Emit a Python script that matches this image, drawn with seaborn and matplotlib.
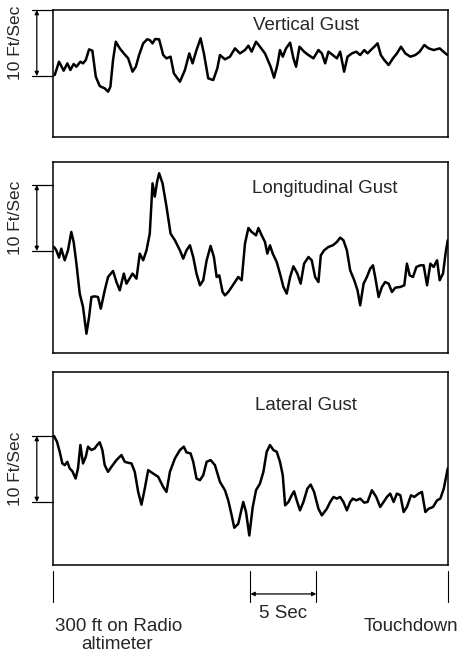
import matplotlib
matplotlib.use("Agg")
import matplotlib.pyplot as plt
import matplotlib.transforms as mtransforms
import seaborn as sns

# Gust traces, time in seconds from 300 ft altitude to touchdown, gust in ft/sec
vert_t = [0.13, 0.46, 0.81, 1.09, 1.32, 1.57, 1.78, 2.08, 2.28, 2.49, 2.74, 2.99, 3.25, 3.55,
          3.93, 4.18, 4.36, 4.56, 4.77, 5.07, 5.38, 5.71, 6.04, 6.29, 6.54, 6.85, 7.15, 7.35,
          7.56, 7.76, 8.06, 8.37, 8.62, 8.93, 9.18, 9.64, 10.02, 10.35, 10.60, 10.90, 11.21,
          11.46, 11.79, 12.17, 12.48, 12.68, 13.06, 13.44, 13.82, 14.20, 14.58, 14.84, 15.09,
          15.42, 15.72, 16.10, 16.53, 16.79, 17.04, 17.24, 17.45, 17.70, 18.01, 18.26, 18.46,
          18.72, 19.07, 19.40, 19.78, 20.16, 20.42, 20.67, 20.92, 21.25, 21.56, 21.81, 22.11,
          22.37, 22.70, 23.03, 23.33, 23.64, 23.89, 24.14, 24.40, 24.65, 24.90, 25.16, 25.49,
          25.82, 26.12, 26.43, 26.76, 27.14, 27.52, 27.85, 28.20, 28.53, 28.91, 29.37, 29.80, 29.98]
vert_v = [0.15, 2.17, 0.81, 1.92, 0.91, 1.82, 1.41, 2.17, 1.92, 2.42, 4.04, 3.84, -0.10, -1.52,
          -1.87, -2.37, -1.62, 2.42, 5.20, 4.19, 3.43, 2.68, 0.66, 1.41, 3.18, 4.95, 5.56, 5.45,
          4.95, 5.61, 5.56, 3.18, 2.68, 2.93, 0.40, -0.86, 0.91, 3.43, 1.92, 3.94, 5.71,
          3.43, -0.35, -0.61, 1.16, 3.18, 2.53, 2.93, 4.19, 3.43, 3.94, 4.60, 3.69,
          5.20, 4.44, 3.43, 1.41, -0.25, 1.67, 3.94, 2.93, 4.19, 5.05, 2.68, 1.41,
          4.44, 3.69, 3.18, 2.68, 3.94, 3.43, 1.92, 3.69, 3.18, 2.68, 3.69, 0.66,
          2.93, 3.43, 3.69, 3.18, 3.94, 3.43, 3.94, 4.44, 4.95, 3.18, 2.42, 1.67,
          2.68, 3.43, 4.44, 3.43, 2.93, 3.18, 3.69, 4.70, 4.19, 3.94, 4.19, 3.43, 3.18]

long_t = [0.08, 0.25, 0.46, 0.63, 0.89, 1.14, 1.39, 1.57, 1.78, 2.03, 2.28, 2.54, 2.74, 2.92,
          3.17, 3.42, 3.63, 3.93, 4.18, 4.56, 4.82, 5.07, 5.38, 5.58, 6.04, 6.34, 6.59, 6.85,
          7.10, 7.35, 7.56, 7.73, 7.91, 8.06, 8.32, 8.62, 8.93, 9.26, 9.64, 9.89, 10.14, 10.40,
          10.65, 10.90, 11.16, 11.41, 11.67, 11.97, 12.22, 12.43, 12.63, 12.88, 13.06, 13.31,
          13.57, 13.82, 14.07, 14.33, 14.58, 14.84, 15.09, 15.42, 15.60, 15.85, 16.10, 16.28,
          16.48, 16.69, 16.99, 17.24, 17.50, 17.75, 18.01, 18.26, 18.56, 18.81, 19.07, 19.40,
          19.65, 19.91, 20.16, 20.34, 20.59, 20.92, 21.25, 21.56, 21.81, 22.06, 22.32, 22.57,
          22.88, 23.13, 23.33, 23.59, 23.84, 24.09, 24.30, 24.47, 24.73, 24.98, 25.23, 25.49,
          25.74, 26.00, 26.38, 26.68, 26.88, 27.09, 27.34, 27.60, 27.90, 28.15, 28.41, 28.66,
          28.91, 29.17, 29.37, 29.62, 29.83, 29.98]
long_v = [0.61, 0.10, -1.01, 0.35, -1.41, 0.10, 2.88, 1.36, -1.92, -6.46, -8.48, -12.53, -10.0, -6.97,
          -6.87, -6.97, -8.74, -5.96, -3.94, -3.03, -4.70, -5.96, -3.43, -4.95, -3.43, -4.19, -0.40, -1.41,
          0.10, 2.63, 10.25, 8.23, 10.51, 11.77, 10.25, 6.72, 2.63, 1.62, 0.10, -1.16, 0.10, 0.86,
          -0.91, -3.43, -5.20, -4.44, -1.41, 0.76, -0.91, -3.94, -3.69, -6.21, -6.72, -6.21,
          -5.45, -4.70, -3.94, -4.44, 1.11, 3.48, 2.88, 2.37, 3.48, 2.37, 1.36, -0.40,
          0.86, -0.40, -1.67, -3.43, -5.45, -6.46, -3.94, -2.32, -3.43, -4.95, -1.92, -0.91,
          -1.41, -3.94, -4.70, -0.66, 0.10, 0.61, 0.86, 1.36, 2.02, 1.62, 0.10, -2.93,
          -4.44, -5.96, -8.23, -4.95, -3.94, -2.68, -2.17, -3.94, -6.97, -5.45, -4.70, -4.95,
          -6.21, -5.56, -5.45, -5.20, -1.92, -3.69, -3.94, -2.42, -2.17, -2.17, -5.20, -1.92,
          -2.42, -1.41, -4.44, -3.43, -0.15, 1.62]

lat_t = [0.08, 0.30, 0.51, 0.71, 0.89, 1.09, 1.27, 1.47, 1.72, 1.90, 2.08, 2.28, 2.49, 2.66,
         2.92, 3.17, 3.35, 3.55, 3.75, 3.93, 4.18, 4.44, 4.82, 5.20, 5.45, 5.71, 5.96, 6.21,
         6.47, 6.72, 6.97, 7.23, 7.61, 7.99, 8.37, 8.62, 8.88, 9.26, 9.64, 9.94, 10.14, 10.45,
         10.65, 10.90, 11.16, 11.41, 11.67, 11.97, 12.30, 12.68, 13.06, 13.31, 13.57, 13.77,
         14.07, 14.33, 14.45, 14.66, 14.91, 15.17, 15.42, 15.72, 15.98, 16.23, 16.48, 16.74,
         16.99, 17.24, 17.45, 17.63, 17.88, 18.13, 18.31, 18.51, 18.76, 19.02, 19.32, 19.57,
         19.83, 20.16, 20.42, 20.80, 21.05, 21.30, 21.56, 21.81, 22.06, 22.32, 22.57, 22.77,
         23.03, 23.33, 23.64, 23.89, 24.22, 24.55, 24.85, 25.11, 25.36, 25.61, 25.87, 26.12,
         26.38, 26.63, 26.88, 27.19, 27.44, 27.77, 28.02, 28.28, 28.53, 28.86, 29.17, 29.42,
         29.68, 29.98]
lat_v = [10.0, 9.14, 7.61, 5.84, 5.58, 6.09, 5.08, 4.67, 3.55, 5.08, 8.63, 5.84, 6.85, 8.38,
         7.87, 8.12, 8.63, 9.04, 7.87, 5.58, 4.57, 5.33, 6.35, 7.11, 6.09, 5.94, 5.84, 4.57,
         1.52, -0.41, 2.03, 4.82, 4.31, 3.81, 2.28, 1.52, 4.57, 6.60, 7.87, 8.38, 7.51, 7.36,
         6.09, 3.55, 3.30, 4.06, 6.09, 6.35, 5.58, 3.05, 1.78, 0.25, -2.03, -3.91,
         -3.30, -1.02, 0.00, -1.52, -5.08, -0.76, 1.78, 2.79, 4.57, 7.61, 8.63, 7.87,
         7.61, 6.09, 4.06, -0.51, 0.00, 1.02, 1.62, 0.25, -1.27, 0.00, 2.03, 2.64,
         1.52, -1.02, -2.03, -1.02, 0.00, 0.76, 0.51, 0.76, 0.00, -1.27, 0.00, 0.51,
         0.25, 0.51, -0.10, 0.00, 1.78, 0.76, -0.76, 0.00, 0.76, 1.27, 0.00, 1.27,
         1.02, -1.52, -0.76, 1.02, 0.76, 1.27, 1.52, -1.52, -1.02, -0.76, 0.25, 0.51,
         2.03, 5.08]

titles = ["Vertical Gust", "Longitudinal Gust", "Lateral Gust"]
scale_label = "10 Ft/Sec"
start_label = ["300 ft on Radio", "altimeter"]
end_label = "Touchdown"
span_label = "5 Sec"

sns.set_style("white")
plt.rcParams["font.family"] = ["Liberation Sans", "DejaVu Sans"]

fig = plt.figure(figsize=(4.62, 6.55), dpi=100)

# panel boxes [left, bottom, width, height] in figure fractions
boxes = [[0.1147, 0.7908, 0.855, 0.1939],
         [0.1147, 0.4611, 0.855, 0.2916],
         [0.1147, 0.1374, 0.855, 0.2947]]
ylims = [(-9.24, 10.0), (-15.45, 13.48), (-9.55, 19.7)]
title_pos = [(0.64, 0.882), (0.689, 0.859), (0.64, 0.824)]
series = [(vert_t, vert_v), (long_t, long_v), (lat_t, lat_v)]

axes = []
for i in range(3):
    ax = fig.add_axes(boxes[i])
    t, v = series[i]
    sns.lineplot(x=t, y=v, ax=ax, color="black", linewidth=1.8, sort=False)
    ax.set_xlim(0, 30)
    ax.set_ylim(*ylims[i])
    ax.set_xticks([])
    ax.set_yticks([])
    ax.set_xlabel("")
    ax.set_ylabel("")
    for s in ax.spines.values():
        s.set_color("black")
        s.set_linewidth(1.1)
    ax.text(title_pos[i][0], title_pos[i][1], titles[i], transform=ax.transAxes,
            ha="center", va="center", fontsize=13.5)

    # 10 ft/sec scale bar on the left
    tr = mtransforms.blended_transform_factory(ax.transAxes, ax.transData)
    ax.plot([-0.052, 0.0], [0, 0], color="black", lw=0.9, transform=tr, clip_on=False)
    ax.plot([-0.052, 0.0], [10, 10], color="black", lw=0.9, transform=tr, clip_on=False)
    ax.annotate("", xy=(-0.041, 10), xytext=(-0.041, 0), xycoords=tr, textcoords=tr,
                arrowprops=dict(arrowstyle="<|-|>", color="black", lw=0.9,
                                mutation_scale=6, shrinkA=0, shrinkB=0),
                annotation_clip=False)
    ax.text(-0.094, 5, scale_label, transform=tr, rotation=90, ha="center", va="center",
            fontsize=12.5)
    axes.append(ax)

# time markers under the bottom panel
ax = axes[2]
tb = mtransforms.blended_transform_factory(ax.transData, ax.transAxes)
for x in [0, 30, 15, 20]:
    ax.plot([x, x], [-0.031, -0.192], color="black", lw=0.8, transform=tb, clip_on=False)
ax.annotate("", xy=(20, -0.150), xytext=(15, -0.150), xycoords=tb, textcoords=tb,
            arrowprops=dict(arrowstyle="<|-|>", color="black", lw=0.9,
                            mutation_scale=6, shrinkA=0, shrinkB=0),
            annotation_clip=False)
ax.text(17.5, -0.249, span_label, transform=tb, ha="center", va="center", fontsize=13.5)
ax.text(5.0, -0.321, start_label[0], transform=tb, ha="center", va="center", fontsize=13.5)
ax.text(4.9, -0.414, start_label[1], transform=tb, ha="center", va="center", fontsize=13.5)
ax.text(27.2, -0.321, end_label, transform=tb, ha="center", va="center", fontsize=13.5)

fig.savefig("out.png", dpi=100)
